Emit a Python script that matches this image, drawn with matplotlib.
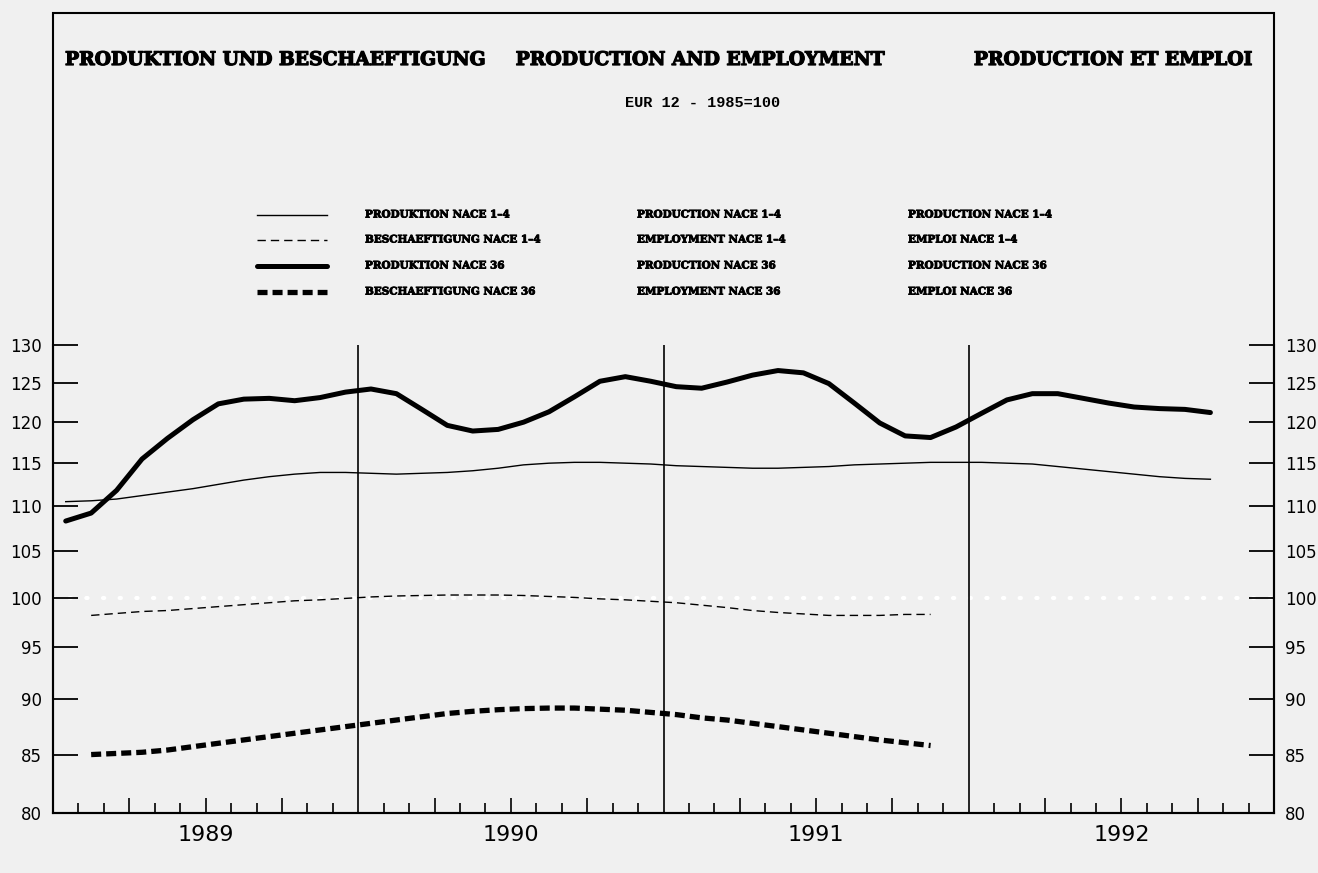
import matplotlib
matplotlib.use('Agg')
import matplotlib.pyplot as plt
import matplotlib.patheffects as pe
from matplotlib.lines import Line2D
from matplotlib.patches import Rectangle
from matplotlib.ticker import NullLocator
import numpy as np

W, H = 1318, 873

# Monthly index values, EUR 12, 1985=100. Month 0 = Jan 1989, points sit mid-month.
prod_14 = [110.5, 110.6, 110.8, 111.2, 111.6, 112.0, 112.5, 113.0, 113.4, 113.7,
           113.9, 113.9, 113.8, 113.7, 113.8, 113.9, 114.1, 114.4, 114.8, 115.0,
           115.1, 115.1, 115.0, 114.9, 114.7, 114.6, 114.5, 114.4, 114.4, 114.5,
           114.6, 114.8, 114.9, 115.0, 115.1, 115.1, 115.1, 115.0, 114.9, 114.6,
           114.3, 114.0, 113.7, 113.4, 113.2, 113.1]
prod_36 = [108.3, 109.2, 111.8, 115.5, 118.0, 120.3, 122.3, 122.9, 123.0, 122.7,
           123.1, 123.8, 124.2, 123.6, 121.6, 119.6, 118.9, 119.1, 120.0, 121.3,
           123.2, 125.2, 125.8, 125.2, 124.5, 124.3, 125.1, 126.0, 126.6, 126.3,
           124.9, 122.4, 119.9, 118.3, 118.1, 119.4, 121.1, 122.8, 123.6, 123.6,
           123.0, 122.4, 121.9, 121.7, 121.6, 121.2]
# employment series run Feb 1989 - Nov 1991
empl_14 = [98.2, 98.4, 98.6, 98.7, 98.9, 99.1, 99.3, 99.5, 99.7, 99.8,
           99.95, 100.1, 100.2, 100.25, 100.3, 100.3, 100.3, 100.25, 100.15, 100.05,
           99.9, 99.8, 99.65, 99.5, 99.25, 99.0, 98.7, 98.5, 98.35, 98.2,
           98.2, 98.2, 98.3, 98.3]
empl_36 = [85.0, 85.1, 85.2, 85.4, 85.7, 86.0, 86.3, 86.6, 86.9, 87.2,
           87.5, 87.8, 88.1, 88.4, 88.7, 88.9, 89.05, 89.15, 89.2, 89.2,
           89.1, 89.0, 88.8, 88.6, 88.3, 88.1, 87.8, 87.5, 87.2, 86.9,
           86.6, 86.3, 86.05, 85.8]
prod_start = 0
empl_start = 1

years = ['1989', '1990', '1991', '1992']
y_ticks = [80, 85, 90, 95, 100, 105, 110, 115, 120, 125, 130]

titles = ['PRODUKTION UND BESCHAEFTIGUNG', 'PRODUCTION AND EMPLOYMENT',
          'PRODUCTION ET EMPLOI']
subtitle = 'EUR 12 - 1985=100'
legend_de = ['PRODUKTION NACE 1–4', 'BESCHAEFTIGUNG NACE 1–4',
             'PRODUKTION NACE 36', 'BESCHAEFTIGUNG NACE 36']
legend_en = ['PRODUCTION NACE 1–4', 'EMPLOYMENT NACE 1–4',
             'PRODUCTION NACE 36', 'EMPLOYMENT NACE 36']
legend_fr = ['PRODUCTION NACE 1–4', 'EMPLOI NACE 1–4',
             'PRODUCTION NACE 36', 'EMPLOI NACE 36']

BG = '#f0f0f0'
STYLES = [
    dict(color='black', lw=1.0, linestyle='-'),
    dict(color='black', lw=1.0, linestyle=(0, (6, 3.6))),
    dict(color='black', lw=3.6, linestyle='-', solid_capstyle='round',
         solid_joinstyle='round'),
    dict(color='black', lw=3.8, linestyle=(0, (1.9, 0.95))),
]
HEAVY = [pe.withStroke(linewidth=0.9, foreground='black')]


def fx(px):
    return px / W


def fy(py):
    return 1 - py / H


def main():
    fig = plt.figure(figsize=(W / 100, H / 100), dpi=100, facecolor=BG)

    ax = fig.add_axes([fx(53), fy(813), (1274 - 53) / W, (813 - 345) / H])
    ax.set_facecolor('none')
    ax.set_yscale('log')
    ax.set_ylim(80, 130)
    ax.set_xlim(0, 48)

    x_prod = np.arange(len(prod_14)) + prod_start + 0.5
    x_empl = np.arange(len(empl_14)) + empl_start + 0.5

    # 100 reference line
    ax.axhline(100, color='white', lw=3, linestyle=(0, (0.3, 3.7)),
               dash_capstyle='round', zorder=1)

    ax.plot(x_prod, prod_14, **STYLES[0], zorder=3)
    ax.plot(x_empl, empl_14, **STYLES[1], zorder=3)
    ax.plot(x_prod, prod_36, **STYLES[2], zorder=3)
    ax.plot(x_empl, empl_36, **STYLES[3], zorder=3)

    for k in range(1, len(years)):
        ax.axvline(12 * k, color='black', lw=1.2, zorder=2)

    # y axis, labels both sides
    ax.set_yticks(y_ticks, labels=[str(v) for v in y_ticks])
    ax.yaxis.set_minor_locator(NullLocator())
    ax.tick_params(axis='y', which='major', direction='in', length=18, width=1.3,
                   left=True, right=True, labelleft=True, labelright=True,
                   pad=8, labelsize=12)

    # x axis: month ticks, taller at quarters
    months = [m for m in range(1, 48) if m % 12 != 0]
    quarters = [m for m in months if m % 3 == 0]
    others = [m for m in months if m % 3 != 0]
    ax.set_xticks(quarters)
    ax.set_xticks(others, minor=True)
    ax.tick_params(axis='x', which='major', direction='in', length=11, width=1.2,
                   labelbottom=False)
    ax.tick_params(axis='x', which='minor', direction='in', length=7, width=1.2)

    for i, yr in enumerate(years):
        ax.text(12 * i + 6, -0.047, yr, transform=ax.get_xaxis_transform(),
                ha='center', va='center', fontsize=16)

    ax.spines['top'].set_visible(False)
    for s in ('left', 'right', 'bottom'):
        ax.spines[s].set_linewidth(1.5)

    # outer frame
    fig.add_artist(Rectangle((fx(53), fy(813)), (1274 - 53) / W, (813 - 13) / H,
                             transform=fig.transFigure, fill=False,
                             edgecolor='black', lw=1.5))

    # titles
    tkw = dict(family='DejaVu Serif', fontweight='bold', fontsize=13.5,
               va='center', path_effects=HEAVY)
    fig.text(fx(65), fy(60), titles[0], ha='left', **tkw)
    fig.text(fx(700), fy(60), titles[1], ha='center', **tkw)
    fig.text(fx(1252), fy(60), titles[2], ha='right', **tkw)
    fig.text(fx(703), fy(103), subtitle, ha='center', va='center',
             family='Liberation Mono', fontsize=11, fontweight='bold')

    # legend block
    rows = [215, 240, 266, 292]
    lkw = dict(family='DejaVu Serif', fontweight='bold', fontsize=7.5,
               va='center', ha='left',
               path_effects=[pe.withStroke(linewidth=0.6, foreground='black')])
    for r, yp in enumerate(rows):
        fig.add_artist(Line2D([fx(257), fx(327)], [fy(yp), fy(yp)],
                              transform=fig.transFigure, **STYLES[r]))
        fig.text(fx(365), fy(yp), legend_de[r], **lkw)
        fig.text(fx(637), fy(yp), legend_en[r], **lkw)
        fig.text(fx(908), fy(yp), legend_fr[r], **lkw)

    fig.savefig('out.png', dpi=100, facecolor=BG)
    plt.close(fig)


if __name__ == '__main__':
    main()
